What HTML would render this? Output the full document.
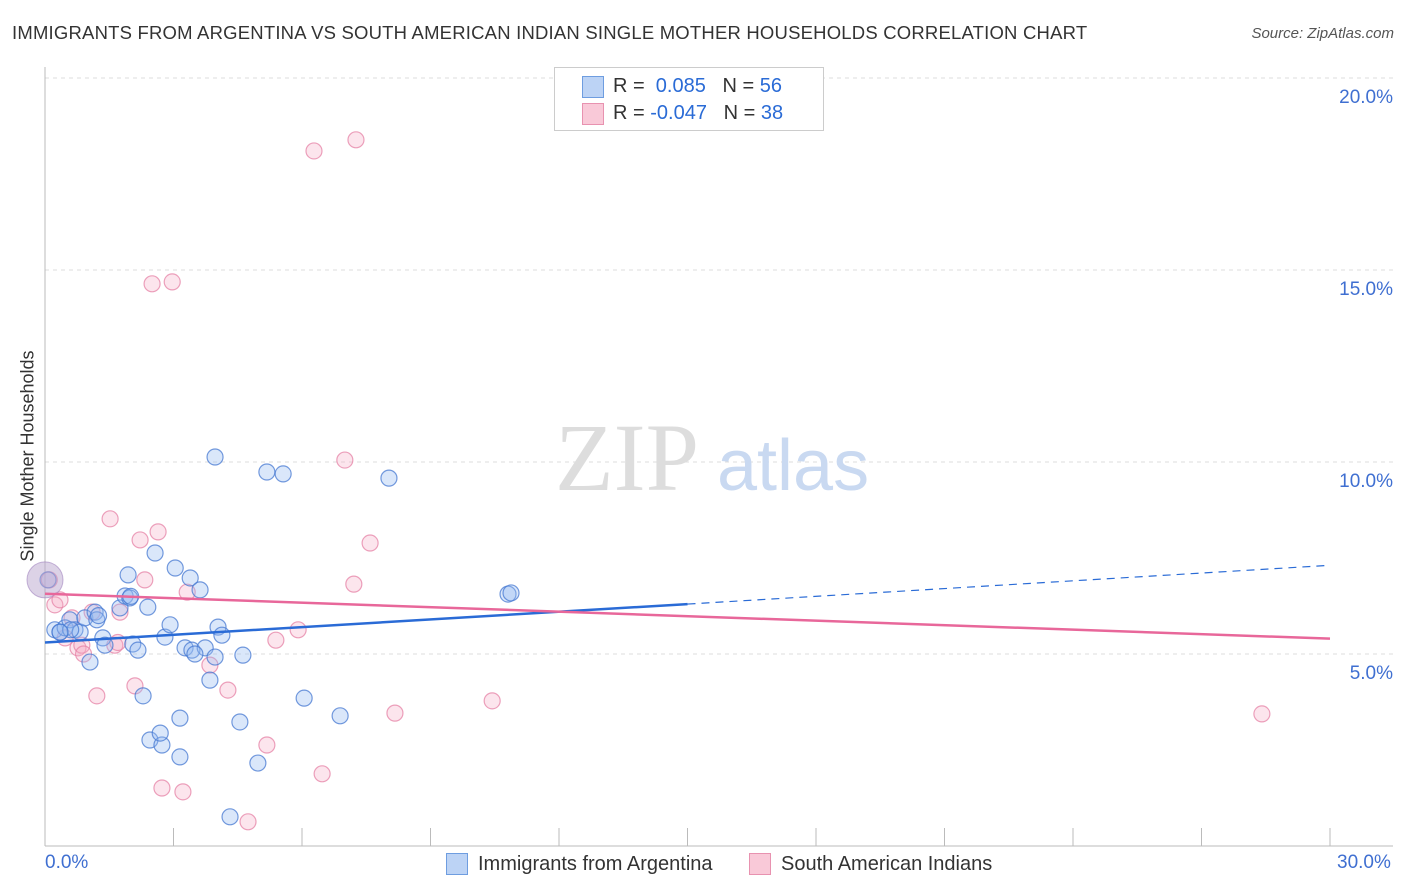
<!DOCTYPE html>
<html><head><meta charset="utf-8"><style>
body{margin:0;background:#fff;font-family:"Liberation Sans",sans-serif;}
#c{position:relative;width:1406px;height:892px;overflow:hidden}
.t{position:absolute;white-space:nowrap}
</style></head><body>
<div id="c">
<div class="t" style="left:12px;top:23px;font-size:18px;color:#333;letter-spacing:0.2px;transform:scaleX(1.027);transform-origin:left">IMMIGRANTS FROM ARGENTINA VS SOUTH AMERICAN INDIAN SINGLE MOTHER HOUSEHOLDS CORRELATION CHART</div>
<div class="t" style="right:12px;top:25px;font-size:15px;color:#555;font-style:italic">Source: ZipAtlas.com</div>
<svg id="s" width="1406" height="892" style="position:absolute;left:0;top:0"></svg>
</div>
<script>
const blueX=[0.23,0.35,0.47,0.58,0.70,0.82,0.93,1.05,1.17,1.21,1.35,1.40,1.75,1.87,1.94,1.98,2.05,2.17,2.29,2.40,2.45,2.57,2.73,2.80,2.92,3.04,3.15,3.15,3.27,3.39,3.43,3.62,3.74,3.85,3.97,3.97,4.04,4.13,4.55,4.62,4.97,5.18,5.56,6.05,6.89,8.03,10.81,10.88,4.32,2.69,0.07,0.60,0.35,1.25,2.00,3.50];
const blueY=[5.63,5.57,5.68,5.89,5.63,5.57,5.94,4.79,6.09,5.89,5.42,5.23,6.20,6.51,7.06,6.46,5.26,5.10,3.91,6.22,2.76,7.63,2.63,5.44,5.76,7.24,3.33,2.32,5.16,6.98,5.10,6.67,5.16,4.32,10.13,4.92,5.70,5.49,3.23,4.97,2.16,9.74,9.69,3.85,3.39,9.58,6.56,6.59,0.76,2.94,6.93,5.63,5.57,6.00,6.50,5.00];
const pinkX=[0.23,0.35,0.47,0.63,0.77,0.86,1.10,1.21,1.52,1.63,1.75,2.10,2.22,2.33,2.50,2.64,2.73,2.97,3.22,3.32,3.85,4.27,4.74,5.18,5.39,5.91,6.28,6.47,7.00,7.21,7.26,7.59,8.17,10.44,28.41,0.10,1.70,0.90];
const pinkY=[6.28,6.41,5.42,5.94,5.16,5.23,6.09,3.91,8.52,5.23,6.09,4.17,7.97,6.93,14.64,8.18,1.51,14.69,1.41,6.61,4.71,4.06,0.63,2.63,5.36,5.63,18.10,1.88,10.05,6.82,18.39,7.89,3.46,3.78,3.44,6.93,5.30,5.00];
const blueTrend=[[0,5.30],[15,6.30],[30,7.31]];
const pinkTrend=[[0,6.57],[30,5.40]];
const yTicks=[5,10,15,20];
const xTickCount=11;
const X=v=>45+v*(1285/30), Y=v=>846-v*38.4;
const s=document.getElementById('s'),NS='http://www.w3.org/2000/svg';
function mk(t,a,p){const e=document.createElementNS(NS,t);for(const k in a)e.setAttribute(k,a[k]);(p||s).appendChild(e);return e;}
yTicks.forEach(v=>{const l=mk('line',{x1:45,x2:1393,y1:Y(v),y2:Y(v),stroke:'#ddd','stroke-dasharray':'4,4'});


const t=mk('text',{x:1393,y:Y(v)+25,'text-anchor':'end','font-size':19,fill:'#3f6fd1','font-family':'Liberation Sans'});t.textContent=v.toFixed(1)+'%';

});
mk('line',{x1:45,x2:1393,y1:846,y2:846,stroke:'#bbb'});
mk('line',{x1:45,x2:45,y1:67,y2:846,stroke:'#bbb'});
for(let i=0;i<xTickCount;i++){const x=X(i*3);const l=mk('line',{x1:x,x2:x,y1:828,y2:846,stroke:'#bbb'});

}
const wm=mk('text',{x:555,y:490,'font-size':96,fill:'#ddd','font-family':'Liberation Serif'});wm.textContent='ZIP';


const wm2=mk('text',{x:717,y:490,'font-size':72,fill:'#c9d9f1','font-family':'Liberation Sans'});wm2.textContent='atlas';


function pts(xs,ys,fill,stroke,name){xs.forEach((x,i)=>{const c=mk('circle',{cx:X(x),cy:Y(ys[i]),r:8,fill:fill,stroke:stroke,'stroke-width':1.2});

});}
pts(pinkX,pinkY,'rgba(246,170,195,0.3)','rgba(230,130,165,0.75)','pink-point');
pts(blueX,blueY,'rgba(150,185,240,0.35)','rgba(70,120,210,0.75)','blue-point');
const big=mk('circle',{cx:X(0),cy:Y(6.93),r:18,fill:'rgba(185,165,205,0.5)',stroke:'rgba(160,130,190,0.6)'});


const b1=mk('line',{x1:X(blueTrend[0][0]),y1:Y(blueTrend[0][1]),x2:X(blueTrend[1][0]),y2:Y(blueTrend[1][1]),stroke:'#2a6bd6','stroke-width':2.5});


const b2=mk('line',{x1:X(blueTrend[1][0]),y1:Y(blueTrend[1][1]),x2:X(blueTrend[2][0]),y2:Y(blueTrend[2][1]),stroke:'#2a6bd6','stroke-width':1.2,'stroke-dasharray':'8,6'});


const p1=mk('line',{x1:X(pinkTrend[0][0]),y1:Y(pinkTrend[0][1]),x2:X(pinkTrend[1][0]),y2:Y(pinkTrend[1][1]),stroke:'#e8679a','stroke-width':2.5});


</script>
<div class="t" style="left:28px;top:456px;transform:translate(-50%,-50%) rotate(-90deg);font-size:18px;color:#333">Single Mother Households</div>
<div class="t" style="left:45px;top:852px;font-size:19px;color:#3f6fd1">0.0%</div>
<div class="t" style="left:1337px;top:852px;font-size:19px;color:#3f6fd1">30.0%</div>
<div style="position:absolute;left:554px;top:67px;width:268px;height:62px;border:1px solid #ccc;background:#fff;font-size:20px">
 <div style="position:absolute;left:27px;top:8px;width:20px;height:20px;background:#bcd3f5;border:1px solid #6e9de0"></div>
 <div class="t" style="left:58px;top:7px;color:#333">R = <span style="color:#2a6bd6">&nbsp;0.085</span>&nbsp;&nbsp;&nbsp;N = <span style="color:#2a6bd6">56</span></div>
 <div style="position:absolute;left:27px;top:35px;width:20px;height:20px;background:#f9c9d8;border:1px solid #e892b0"></div>
 <div class="t" style="left:58px;top:34px;color:#333">R = <span style="color:#2a6bd6">-0.047</span>&nbsp;&nbsp;&nbsp;N = <span style="color:#2a6bd6">38</span></div>
</div>
<div style="position:absolute;left:446px;top:853px;font-size:20px;color:#333">
 <div style="position:absolute;left:0;top:0;width:20px;height:20px;background:#bcd3f5;border:1px solid #6e9de0"></div>
 <div class="t" style="left:32px;top:0">Immigrants from Argentina</div></div>
<div style="position:absolute;left:749px;top:853px;font-size:20px;color:#333">
 <div style="position:absolute;left:0;top:0;width:20px;height:20px;background:#f9c9d8;border:1px solid #e892b0"></div>
 <div class="t" style="left:32px;top:0">South American Indians</div></div>
</body></html>
